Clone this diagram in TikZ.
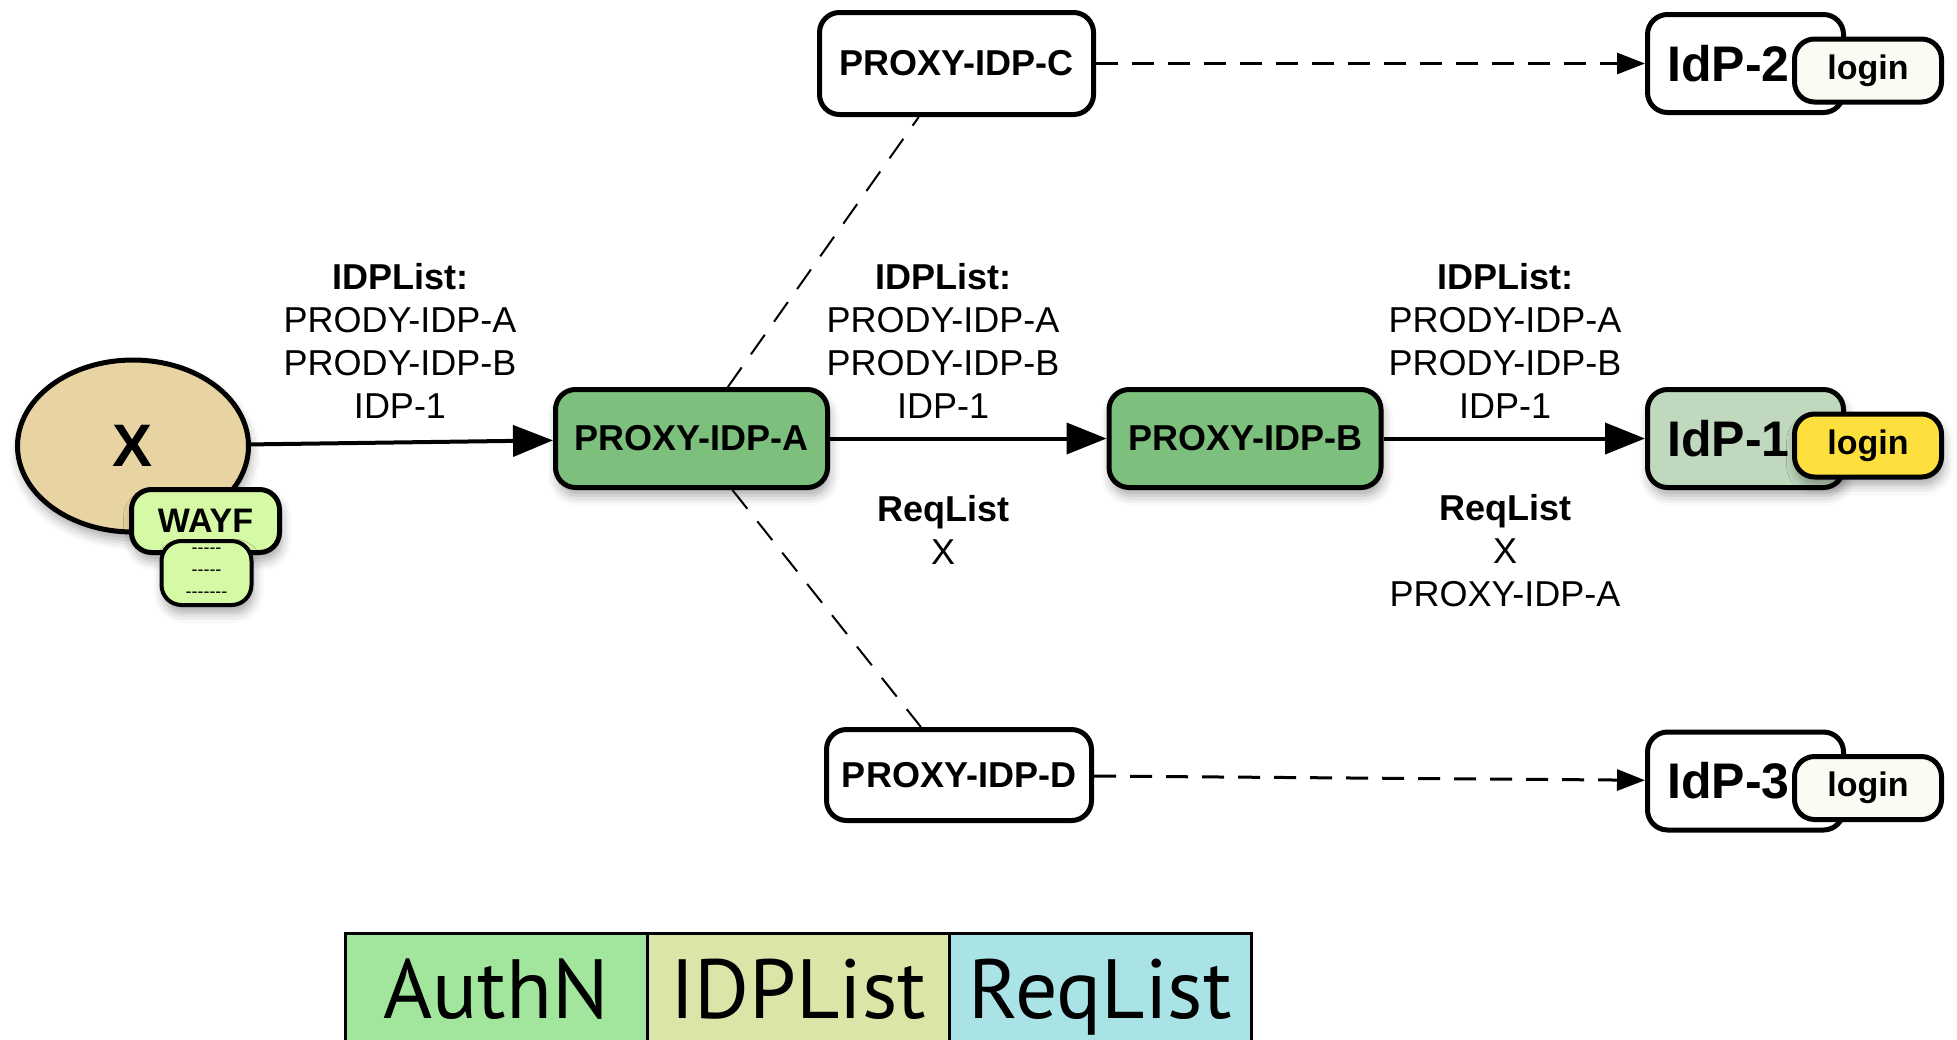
\documentclass[tikz,border=0pt]{standalone}
\usepackage{fontspec}
\setmainfont{Liberation Sans}
\newfontfamily\legfont{PT Sans}
\usetikzlibrary{arrows.meta,shapes.geometric,shadows.blur}
\definecolor{tan}{RGB}{232,212,162}
\definecolor{wayfgreen}{RGB}{214,249,166}
\definecolor{proxygreen}{RGB}{125,192,125}
\definecolor{idpgreen}{RGB}{192,216,190}
\definecolor{loginyellow}{RGB}{253,224,62}
\definecolor{offwhite}{RGB}{251,251,243}
\definecolor{authn}{RGB}{162,229,156}
\definecolor{idplist}{RGB}{217,230,167}
\definecolor{reqlist}{RGB}{169,227,230}
\newcommand\hy{\mbox{-}}
\begin{document}
\begin{tikzpicture}[x=0.5pt, y=-0.5pt,
 shadowed/.style={blur shadow={shadow xshift=1pt, shadow yshift=-4pt,
  shadow blur radius=5pt, shadow opacity=35}},
 plain/.style={},
 box/.style={draw, line width=2.5pt, rounded corners=10pt, inner sep=0pt,
  font=\fontsize{18}{21.5}\selectfont\bfseries},
 proxy/.style={box, minimum width=136pt, minimum height=49pt},
 idp/.style={box, minimum width=98pt, minimum height=49pt, text width=78pt,
  align=left, font=\fontsize{25}{30}\selectfont\bfseries},
 login/.style={box, minimum width=73.5pt, minimum height=31.5pt,
  font=\fontsize{17}{20}\selectfont\bfseries},
 lbl/.style={align=center, inner sep=0pt, font=\fontsize{18}{21.5}\selectfont},
 flow/.style={line width=2pt, -{Triangle[length=20pt,width=15.5pt]}},
 dflow/.style={line width=1.5pt, dash pattern=on 11pt off 7pt,
  -{Triangle[length=14pt,width=10.5pt]}},
 link/.style={line width=1pt, dash pattern=on 12pt off 8pt},
 leg/.style={draw, line width=1.25pt, minimum width=151pt, minimum height=59pt,
  inner sep=0pt, text height=26pt, text depth=0pt,
  font=\legfont\fontsize{42}{50}\selectfont}]
\useasboundingbox (0,0) rectangle (1957,1039);
\node[ellipse, draw, line width=2.5pt, fill=tan, shadowed, inner sep=0pt,
 minimum width=115.5pt, minimum height=86pt,
 font=\fontsize{30}{36}\selectfont\bfseries] (x) at (133,446) {X};
\node[box, fill=wayfgreen, shadowed, minimum width=74pt, minimum height=31.5pt,
 font=\fontsize{17}{20}\selectfont\bfseries] (wayf) at (205.5,521) {WAYF};
\node[box, line width=2pt, fill=wayfgreen, shadowed, minimum width=45pt,
 minimum height=32pt, align=center, font=\fontsize{9}{11}\selectfont]
 (list) at (206.5,573) {\hy\hy\hy\hy\hy\\\hy\hy\hy\hy\hy\\\hy\hy\hy\hy\hy\hy\hy};
\node[proxy, fill=proxygreen, shadowed] (pa) at (691.5,438.5) {PROXY-IDP-A};
\node[proxy, fill=proxygreen, shadowed] (pb) at (1245,438.5) {PROXY-IDP-B};
\node[proxy, fill=white, minimum width=137pt, minimum height=51pt]
 (pc) at (956.5,63.5) {PROXY-IDP-C};
\node[proxy, fill=white, minimum width=132.5pt, minimum height=45.5pt]
 (pd) at (959,775) {PROXY-IDP-D};
\foreach \n/\y/\bg/\lg/\sh in {2/63.5/white/offwhite/plain,
 1/438.5/idpgreen/loginyellow/shadowed, 3/781/white/offwhite/plain}{
\node[idp, fill=\bg, \sh] (idp\n) at (1745.5,\y) {IdP-\n};
\node[login, fill=\lg, \sh] (login\n) at (1868,\y+7) {login};
}
\draw[flow] (x) -- (pa);
\draw[flow] (pa) -- (pb);
\draw[flow] (pb) -- (idp1);
\draw[dflow] (pc) -- (idp2);
\draw[dflow] (pd) -- (idp3);
\draw[link] (pa) -- (pc) (pa) -- (pd);
\node[lbl] (l1) at (400,341)
 {\textbf{IDPList:}\\PRODY-IDP-A\\PRODY-IDP-B\\IDP-1};
\node[lbl] (l2) at (943,341)
 {\textbf{IDPList:}\\PRODY-IDP-A\\PRODY-IDP-B\\IDP-1};
\node[lbl] (l3) at (1505,341)
 {\textbf{IDPList:}\\PRODY-IDP-A\\PRODY-IDP-B\\IDP-1};
\node[lbl] (r2) at (943,530) {\textbf{ReqList}\\X};
\node[lbl] (r3) at (1505,551) {\textbf{ReqList}\\X\\PROXY-IDP-A};
\foreach \i/\t/\c in {0/AuthN/authn, 1/IDPList/idplist, 2/ReqList/reqlist}
\node[leg, fill=\c, anchor=north west] (leg\i) at (344+302*\i,932) {\t};
\end{tikzpicture}
\end{document}
